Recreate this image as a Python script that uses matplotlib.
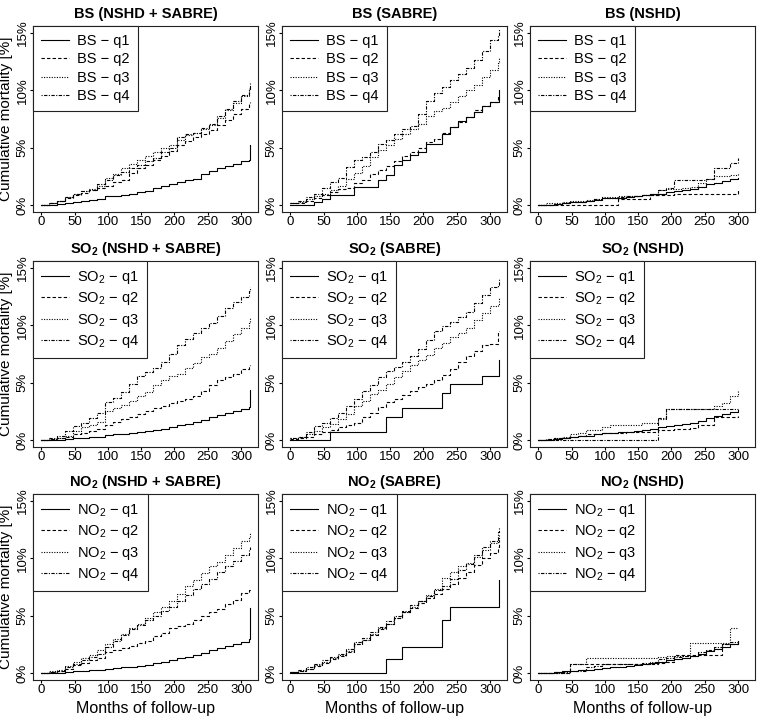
import matplotlib
matplotlib.use("Agg")
import matplotlib.pyplot as plt

plt.rcParams["font.family"] = ["Liberation Sans", "DejaVu Sans"]
plt.rcParams["mathtext.default"] = "regular"

# follow-up grid (months); SABRE / pooled curves end at 313, NSHD at 300
months_long = [0, 12, 24, 36, 48, 60, 72, 84, 96, 108, 120, 132, 144, 156,
               168, 180, 192, 204, 216, 228, 240, 252, 264, 276, 288, 300, 312, 313]
months_nshd = [0, 12, 24, 36, 48, 60, 72, 84, 96, 108, 120, 132, 144, 156,
               168, 180, 192, 204, 216, 228, 240, 252, 264, 276, 288, 300]

# cumulative mortality [%]
# BS, pooled
bs_all_q1 = [0, 0.05, 0.1, 0.15, 0.25, 0.35, 0.45, 0.55, 0.75, 0.8, 0.9, 1.0, 1.1, 1.25, 1.45, 1.7, 1.85, 2.05, 2.15, 2.3, 2.7, 3.0, 3.2, 3.4, 3.6, 3.8, 3.9, 5.2]
bs_all_q2 = [0, 0.15, 0.35, 0.6, 0.85, 1.05, 1.3, 1.5, 1.7, 2.0, 2.2, 2.8, 3.2, 3.5, 3.9, 4.3, 4.7, 5.2, 5.6, 5.9, 6.2, 6.5, 7.0, 7.4, 7.9, 8.4, 8.8, 9.0]
bs_all_q3 = [0, 0.2, 0.4, 0.7, 1.0, 1.2, 1.4, 1.7, 2.4, 2.7, 3.2, 3.6, 3.9, 4.3, 4.6, 5.0, 5.2, 5.7, 6.1, 6.3, 6.6, 7.0, 7.6, 8.3, 8.9, 9.5, 10.0, 10.3]
bs_all_q4 = [0, 0.2, 0.4, 0.7, 0.95, 1.2, 1.35, 1.8, 2.2, 2.6, 2.9, 3.2, 3.5, 3.8, 4.1, 4.6, 5.0, 5.9, 6.2, 6.3, 6.7, 7.1, 7.8, 8.4, 9.1, 9.6, 10.2, 10.6]
# BS, SABRE
bs_sab_q1 = [0, 0, 0, 0.3, 0.5, 0.9, 0.9, 0.9, 1.6, 1.6, 1.6, 2.2, 2.6, 3.5, 3.9, 4.4, 4.6, 5.3, 5.3, 6.2, 6.8, 7.3, 7.7, 8.1, 8.6, 9.0, 9.0, 10.0]
bs_sab_q2 = [0.2, 0.2, 0.4, 0.6, 0.9, 1.1, 1.4, 1.5, 1.9, 2.2, 2.7, 3.1, 3.4, 3.8, 4.3, 4.6, 5.0, 5.5, 5.8, 6.3, 6.8, 7.2, 7.7, 8.3, 8.6, 9.0, 9.5, 9.5]
bs_sab_q3 = [0.2, 0.3, 0.5, 0.8, 1.0, 1.3, 1.7, 2.3, 2.8, 3.4, 4.2, 4.8, 5.2, 5.8, 6.2, 6.6, 7.1, 7.8, 8.2, 8.5, 9.0, 9.5, 10.0, 10.5, 11.2, 11.8, 12.4, 12.9]
bs_sab_q4 = [0.2, 0.4, 0.7, 1.0, 1.5, 2.0, 2.4, 3.3, 3.9, 4.2, 4.6, 5.3, 5.7, 6.2, 6.6, 6.9, 7.9, 9.1, 9.8, 10.3, 10.9, 11.4, 11.9, 12.6, 13.4, 14.4, 14.7, 15.3]
# BS, NSHD
bs_nshd_q1 = [0, 0.05, 0.1, 0.15, 0.25, 0.3, 0.35, 0.45, 0.6, 0.6, 0.65, 0.7, 0.75, 0.85, 0.95, 1.0, 1.1, 1.2, 1.3, 1.4, 1.6, 1.8, 1.95, 2.1, 2.25, 2.4]
bs_nshd_q2 = [0, 0, 0, 0.05, 0.05, 0.05, 0.05, 0.05, 0.05, 0.05, 0.5, 0.5, 0.5, 0.5, 0.9, 0.9, 0.9, 1.0, 1.0, 1.0, 1.0, 1.0, 1.0, 1.0, 1.0, 1.3]
bs_nshd_q3 = [0, 0.2, 0.2, 0.3, 0.35, 0.4, 0.45, 0.55, 0.7, 0.7, 0.75, 0.8, 0.8, 0.85, 1.0, 1.3, 1.4, 1.4, 1.5, 1.6, 1.9, 2.3, 2.5, 2.5, 2.6, 2.8]
bs_nshd_q4 = [0, 0.05, 0.1, 0.2, 0.3, 0.3, 0.4, 0.5, 0.65, 0.65, 0.7, 0.75, 0.8, 0.85, 0.9, 1.3, 1.5, 2.2, 2.2, 2.2, 2.2, 2.3, 3.2, 3.2, 3.7, 4.1]
# SO2, pooled
so2_all_q1 = [0, 0.03, 0.05, 0.1, 0.15, 0.2, 0.25, 0.3, 0.45, 0.5, 0.55, 0.6, 0.7, 0.8, 0.9, 1.0, 1.15, 1.3, 1.4, 1.55, 1.75, 2.0, 2.2, 2.35, 2.5, 2.7, 2.9, 4.4]
so2_all_q2 = [0, 0.1, 0.2, 0.3, 0.5, 0.65, 0.8, 1.0, 1.3, 1.6, 1.8, 2.0, 2.3, 2.5, 2.8, 3.0, 3.2, 3.4, 3.6, 3.8, 4.3, 4.8, 5.2, 5.5, 5.8, 6.2, 6.4, 6.5]
so2_all_q3 = [0, 0.1, 0.2, 0.4, 0.8, 1.1, 1.3, 1.6, 2.5, 2.8, 3.1, 3.4, 3.8, 4.2, 4.8, 5.2, 5.6, 5.8, 6.3, 6.7, 7.2, 7.5, 8.0, 8.6, 9.2, 9.8, 10.2, 10.7]
so2_all_q4 = [0, 0.2, 0.4, 0.8, 1.2, 1.5, 1.9, 2.4, 3.3, 3.7, 4.2, 4.9, 5.6, 5.9, 6.3, 6.8, 7.5, 8.3, 8.8, 9.3, 9.8, 10.2, 10.8, 11.5, 12.0, 12.5, 13.0, 13.3]
# SO2, SABRE
so2_sab_q1 = [0, 0, 0, 0, 0, 0.7, 0.7, 0.7, 0.7, 0.7, 0.7, 0.7, 2.0, 2.0, 2.8, 2.8, 2.8, 2.8, 2.8, 4.1, 4.9, 4.9, 4.9, 4.9, 5.6, 5.6, 5.6, 7.0]
so2_sab_q2 = [0.1, 0.2, 0.3, 0.5, 0.7, 0.9, 1.1, 1.3, 1.5, 2.0, 2.4, 2.9, 3.3, 3.6, 3.9, 4.3, 4.6, 4.9, 5.2, 5.7, 6.2, 6.8, 7.3, 7.8, 8.3, 8.4, 9.5, 9.5]
so2_sab_q3 = [0.2, 0.3, 0.5, 0.8, 1.1, 1.4, 1.8, 2.3, 3.0, 3.4, 4.0, 4.4, 4.9, 5.5, 6.0, 6.5, 7.0, 7.4, 8.0, 8.5, 9.0, 9.3, 9.8, 10.5, 11.1, 11.7, 11.8, 12.5]
so2_sab_q4 = [0.2, 0.3, 0.7, 1.2, 1.5, 1.9, 2.4, 3.0, 3.6, 4.3, 4.8, 5.5, 6.0, 6.4, 6.8, 7.3, 7.9, 8.7, 9.5, 9.9, 10.3, 10.7, 11.2, 11.9, 12.6, 13.3, 13.5, 14.0]
# SO2, NSHD
so2_nshd_q1 = [0, 0.05, 0.1, 0.2, 0.3, 0.35, 0.4, 0.5, 0.6, 0.6, 0.7, 0.75, 0.8, 0.9, 1.0, 1.1, 1.2, 1.3, 1.4, 1.5, 1.7, 1.9, 2.1, 2.3, 2.45, 2.6]
so2_nshd_q2 = [0, 0.1, 0.15, 0.2, 0.3, 0.4, 0.5, 0.55, 0.6, 0.6, 0.65, 0.7, 0.7, 0.7, 0.75, 0.9, 0.9, 0.95, 1.0, 1.05, 1.3, 1.3, 2.0, 2.0, 2.0, 2.1]
so2_nshd_q3 = [0, 0.1, 0.2, 0.3, 0.5, 0.6, 0.9, 0.9, 1.1, 1.3, 1.3, 1.3, 1.3, 1.5, 1.5, 1.8, 2.7, 2.7, 2.7, 2.7, 2.7, 2.7, 3.0, 3.2, 3.8, 4.4]
so2_nshd_q4 = [0, 0.05, 0.05, 0.05, 0.05, 0.05, 0.05, 0.05, 0.05, 0.05, 0.05, 0.05, 0.05, 0.05, 0.05, 1.9, 2.7, 2.7, 2.7, 2.7, 2.7, 2.7, 2.7, 2.7, 2.7, 2.7]
# NO2, pooled
no2_all_q1 = [0, 0.02, 0.05, 0.1, 0.15, 0.2, 0.25, 0.3, 0.4, 0.45, 0.5, 0.55, 0.65, 0.75, 0.85, 1.0, 1.1, 1.3, 1.4, 1.55, 1.75, 2.0, 2.2, 2.35, 2.5, 2.7, 3.0, 5.7]
no2_all_q2 = [0, 0.1, 0.2, 0.4, 0.7, 0.9, 1.1, 1.3, 1.8, 2.0, 2.2, 2.4, 2.6, 2.8, 3.2, 3.5, 3.9, 4.1, 4.3, 4.6, 5.0, 5.3, 5.6, 6.0, 6.4, 7.0, 7.2, 7.4]
no2_all_q3 = [0, 0.15, 0.3, 0.6, 1.0, 1.3, 1.6, 2.0, 2.5, 3.0, 3.4, 3.9, 4.3, 4.8, 5.3, 5.8, 6.3, 6.9, 7.6, 8.1, 8.7, 9.3, 9.7, 10.3, 10.9, 11.5, 11.8, 12.3]
no2_all_q4 = [0, 0.1, 0.2, 0.5, 0.8, 1.1, 1.4, 1.7, 2.3, 2.8, 3.3, 3.8, 4.2, 4.6, 5.0, 5.4, 5.8, 6.3, 6.8, 7.3, 7.8, 8.2, 8.8, 9.3, 9.8, 10.3, 10.8, 11.0]
# NO2, SABRE
no2_sab_q1 = [0, 0, 0, 0, 0, 0, 0, 0, 0, 0, 0, 0, 1.2, 1.2, 2.3, 2.3, 2.3, 2.3, 2.3, 4.6, 5.8, 5.8, 5.8, 5.8, 5.8, 5.8, 5.8, 8.1]
no2_sab_q2 = [0.1, 0.2, 0.4, 0.6, 0.9, 1.2, 1.5, 1.8, 2.5, 2.9, 3.3, 3.8, 4.3, 4.8, 5.3, 5.7, 6.1, 6.5, 6.9, 7.3, 7.8, 8.3, 8.8, 9.4, 10.0, 10.5, 11.0, 11.6]
no2_sab_q3 = [0.1, 0.2, 0.4, 0.7, 1.0, 1.3, 1.6, 1.9, 2.5, 2.9, 3.4, 3.9, 4.3, 4.8, 5.3, 5.8, 6.3, 6.8, 7.3, 8.3, 8.8, 9.3, 9.6, 10.1, 10.7, 11.3, 11.6, 12.0]
no2_sab_q4 = [0.1, 0.3, 0.5, 0.8, 1.1, 1.4, 1.7, 2.1, 2.7, 3.1, 3.6, 4.0, 4.5, 5.0, 5.4, 5.9, 6.3, 6.7, 7.2, 7.6, 8.2, 9.0, 9.5, 10.3, 11.0, 11.5, 12.3, 12.7]
# NO2, NSHD
no2_nshd_q1 = [0, 0.05, 0.1, 0.15, 0.2, 0.25, 0.3, 0.35, 0.45, 0.5, 0.55, 0.6, 0.7, 0.8, 0.9, 1.0, 1.1, 1.2, 1.35, 1.5, 1.7, 1.9, 2.1, 2.3, 2.5, 2.8]
no2_nshd_q2 = [0, 0, 0, 0, 0.8, 0.8, 0.8, 0.8, 0.8, 0.8, 0.8, 0.8, 0.8, 0.8, 0.8, 0.9, 1.0, 1.6, 1.6, 1.6, 1.6, 1.6, 1.6, 2.5, 2.5, 2.6]
no2_nshd_q3 = [0, 0, 0, 0, 0.8, 0.8, 1.3, 1.3, 1.3, 1.3, 1.3, 1.3, 1.3, 1.3, 1.3, 1.4, 1.5, 1.5, 1.5, 2.6, 2.6, 2.6, 2.6, 2.6, 3.9, 3.9]
no2_nshd_q4 = [0, 0.05, 0.1, 0.1, 0.2, 0.2, 0.5, 0.6, 0.8, 0.8, 0.8, 0.8, 0.8, 0.9, 1.0, 1.2, 1.3, 1.4, 1.5, 1.5, 1.8, 2.0, 2.3, 2.5, 2.7, 2.8]

quartiles = ["q1", "q2", "q3", "q4"]
line_styles = ["solid", (0, (3, 2)), (0, (1, 1.3)), (0, (1, 1.3, 3, 1.3))]

panels = [
    ("BS (NSHD + SABRE)", "BS", months_long, [bs_all_q1, bs_all_q2, bs_all_q3, bs_all_q4]),
    ("BS (SABRE)", "BS", months_long, [bs_sab_q1, bs_sab_q2, bs_sab_q3, bs_sab_q4]),
    ("BS (NSHD)", "BS", months_nshd, [bs_nshd_q1, bs_nshd_q2, bs_nshd_q3, bs_nshd_q4]),
    ("SO$_2$ (NSHD + SABRE)", "SO$_2$", months_long, [so2_all_q1, so2_all_q2, so2_all_q3, so2_all_q4]),
    ("SO$_2$ (SABRE)", "SO$_2$", months_long, [so2_sab_q1, so2_sab_q2, so2_sab_q3, so2_sab_q4]),
    ("SO$_2$ (NSHD)", "SO$_2$", months_nshd, [so2_nshd_q1, so2_nshd_q2, so2_nshd_q3, so2_nshd_q4]),
    ("NO$_2$ (NSHD + SABRE)", "NO$_2$", months_long, [no2_all_q1, no2_all_q2, no2_all_q3, no2_all_q4]),
    ("NO$_2$ (SABRE)", "NO$_2$", months_long, [no2_sab_q1, no2_sab_q2, no2_sab_q3, no2_sab_q4]),
    ("NO$_2$ (NSHD)", "NO$_2$", months_nshd, [no2_nshd_q1, no2_nshd_q2, no2_nshd_q3, no2_nshd_q4]),
]

W, H = 758, 716
fig = plt.figure(figsize=(W / 100, H / 100), dpi=100)
col_x = [33, 282, 530]
row_y = [26, 261, 494]
ax_w, ax_h = 225, 186

for i, (title, pol, months, series) in enumerate(panels):
    r, c = divmod(i, 3)
    ax = fig.add_axes([col_x[c] / W, 1 - (row_y[r] + ax_h) / H, ax_w / W, ax_h / H])
    for vals, ls, q in zip(series, line_styles, quartiles):
        ax.step(months, vals, where="post", color="black", lw=0.8,
                linestyle=ls, label=f"{pol} \u2212 {q}")
    ax.set_xlim(-12.5, 325.5)
    ax.set_ylim(-0.6, 15.6)
    ax.set_xticks([0, 50, 100, 150, 200, 250, 300])
    ax.set_yticks([0, 5, 10, 15], ["0%", "5%", "10%", "15%"], rotation=90, va="center")
    ax.tick_params(direction="out", length=2.2, width=0.8, labelsize=9.5, pad=1)
    for sp in ax.spines.values():
        sp.set_linewidth(0.8)
        sp.set_color("#222222")
    ax.set_title(title, fontsize=10.5, fontweight="bold", pad=6)
    leg = ax.legend(loc="upper left", bbox_to_anchor=(0, 1), borderaxespad=0,
                    fancybox=False, edgecolor="#222222", framealpha=1, fontsize=10.5,
                    handlelength=1.9, handletextpad=0.6, labelspacing=0.3, borderpad=0.55)
    leg.get_frame().set_linewidth(0.8)
    if c == 0:
        fig.text(6.5 / W, 1 - (row_y[r] + ax_h / 2) / H, "Cumulative mortality [%]",
                 rotation=90, ha="center", va="center", fontsize=11)
    if r == 2:
        fig.text((col_x[c] + ax_w / 2) / W, 0.5 / H, "Months of follow-up",
                 ha="center", va="bottom", fontsize=11.5)

fig.savefig("out.png", dpi=100)
plt.close("all")
